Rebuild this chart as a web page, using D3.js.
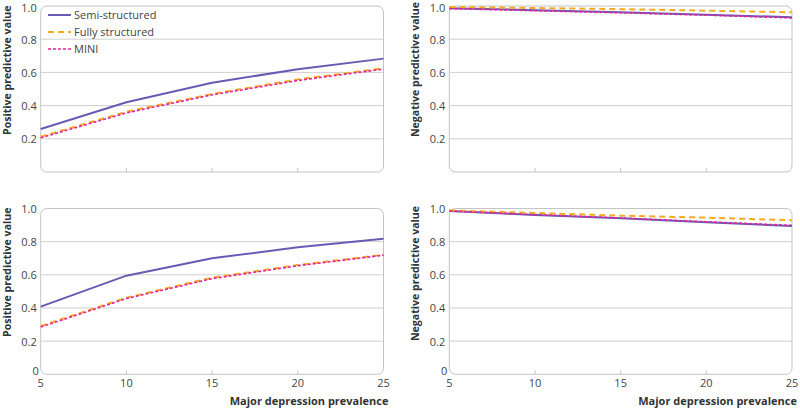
<!DOCTYPE html>
<html><head><meta charset="utf-8">
<script src="https://cdn.jsdelivr.net/npm/d3@7"></script>
<style>body{margin:0;background:#fff}svg{display:block;font-family:"Open Sans",sans-serif}</style>
</head><body><svg id="c" width="800" height="409"></svg>
<script>
const prevalence = [5, 10, 15, 20, 25];
const seriesNames = ["Semi-structured", "Fully structured", "MINI"];
// top row
const ppvTopSemi = [0.259, 0.420, 0.538, 0.619, 0.683];
const ppvTopFully = [0.213, 0.363, 0.470, 0.558, 0.625];
const ppvTopMini = [0.206, 0.356, 0.465, 0.551, 0.620];
const npvTopSemi = [0.986, 0.975, 0.962, 0.948, 0.932];
const npvTopFully = [0.994, 0.988, 0.981, 0.972, 0.962];
const npvTopMini = [0.984, 0.972, 0.959, 0.945, 0.928];
// bottom row
const ppvBotSemi = [0.408, 0.595, 0.700, 0.766, 0.818];
const ppvBotFully = [0.291, 0.462, 0.583, 0.659, 0.721];
const ppvBotMini = [0.285, 0.457, 0.577, 0.655, 0.718];
const npvBotSemi = [0.985, 0.961, 0.941, 0.917, 0.894];
const npvBotFully = [0.989, 0.973, 0.957, 0.945, 0.929];
const npvBotMini = [0.985, 0.963, 0.943, 0.920, 0.898];
const yTicks = [0, 0.2, 0.4, 0.6, 0.8, 1.0];
const xTicks = [5, 10, 15, 20, 25];
const xTitle = "Major depression prevalence";

const colors = ["#6a5ab3", "#f8a920", "#e2249c"];
const dashes = [null, "6,4", "3,2"];
const widths = [2, 2, 1.6];

const svg = d3.select("#c");
const panels = [
  {x0: 40.7, x1: 383.5, y0: 6, y1: 172, title: "Positive predictive value", data: [ppvTopSemi, ppvTopFully, ppvTopMini], bottom: false, legend: true, tx: 7, ts: 135},
  {x0: 449.3, x1: 792, y0: 6, y1: 172, title: "Negative predictive value", data: [npvTopSemi, npvTopFully, npvTopMini], bottom: false, legend: false, tx: 415, ts: 137},
  {x0: 40.7, x1: 383.5, y0: 208.5, y1: 374.3, title: "Positive predictive value", data: [ppvBotSemi, ppvBotFully, ppvBotMini], bottom: true, legend: false, tx: 7, ts: 337},
  {x0: 449.3, x1: 792, y0: 208.5, y1: 374.3, title: "Negative predictive value", data: [npvBotSemi, npvBotFully, npvBotMini], bottom: true, legend: false, tx: 415, ts: 341}
];

panels.forEach(p => {
  const x = d3.scaleLinear().domain([5, 25]).range([p.x0, p.x1]);
  const y = d3.scaleLinear().domain([0, 1]).range([p.y1, p.y0]);
  const g = svg.append("g");
  g.selectAll(".grid").data(yTicks.filter(t => t > 0 && t < 1)).join("line")
    .attr("x1", p.x0).attr("x2", p.x1).attr("y1", d => y(d)).attr("y2", d => y(d))
    .attr("stroke", "#cfcfcf").attr("stroke-width", 1);
  g.append("rect").attr("x", p.x0).attr("y", p.y0).attr("width", p.x1 - p.x0).attr("height", p.y1 - p.y0)
    .attr("rx", 6).attr("fill", "none").attr("stroke", "#c4c4c4").attr("stroke-width", 1);
  g.selectAll(".xt").data(xTicks.slice(1, -1)).join("line")
    .attr("x1", d => x(d)).attr("x2", d => x(d)).attr("y1", p.y1).attr("y2", p.y1 - 4)
    .attr("stroke", "#c4c4c4");
  const yl = p.bottom ? yTicks : yTicks.filter(t => t > 0);
  g.selectAll(".yl").data(yl).join("text")
    .attr("x", d => d === 0 ? p.x0 - 2 : p.x0 - 4)
    .attr("y", d => y(d) + (d === 0 ? 1 : (d === 1 && !p.bottom ? 6 : 4.5)))
    .attr("text-anchor", "end").attr("font-size", 11).attr("fill", "#444")
    .text(d => d === 0 ? "0" : d3.format(".1f")(d));
  if (p.bottom) {
    g.selectAll(".xl").data(xTicks).join("text")
      .attr("x", d => x(d)).attr("y", p.y1 + 13).attr("text-anchor", "middle")
      .attr("font-size", 11).attr("fill", "#444").text(d => d);
    g.append("text").attr("x", p.x1 + 5).attr("y", 405).attr("text-anchor", "end")
      .attr("font-size", 11).attr("font-weight", "bold").attr("fill", "#333").text(xTitle);
  }
  g.append("text").attr("transform", `translate(${p.tx + 4},${p.ts}) rotate(-90)`)
    .attr("text-anchor", "start").attr("font-size", 10.6).attr("font-weight", "bold").attr("fill", "#333")
    .text(p.title);
  const line = d3.line().x((d, i) => x(prevalence[i])).y(d => y(d));
  p.data.forEach((vals, si) => {
    g.append("path").datum(vals).attr("d", line).attr("fill", "none")
      .attr("stroke", colors[si]).attr("stroke-width", widths[si])
      .attr("stroke-dasharray", dashes[si]);
  });
  if (p.legend) {
    seriesNames.forEach((name, si) => {
      const ly = 15 + si * 17;
      g.append("line").attr("x1", 48).attr("x2", 71).attr("y1", ly).attr("y2", ly)
        .attr("stroke", colors[si]).attr("stroke-width", widths[si]).attr("stroke-dasharray", dashes[si]);
      g.append("text").attr("x", 74).attr("y", ly + 4).attr("font-size", 11).attr("fill", "#444").text(name);
    });
  }
});
</script></body></html>
